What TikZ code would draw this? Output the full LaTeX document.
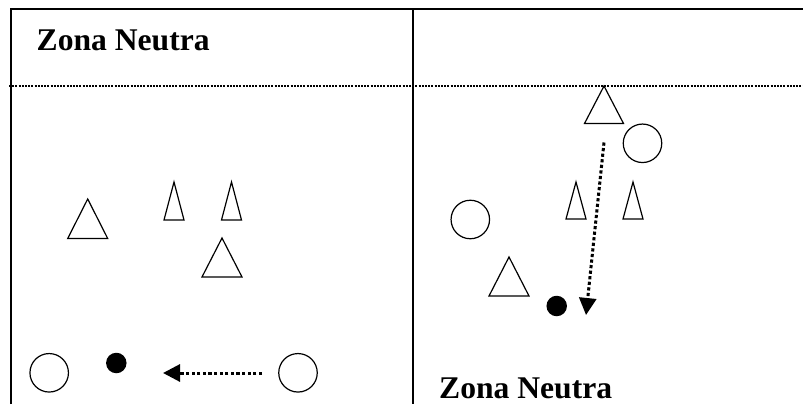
\documentclass[tikz,border=0pt]{standalone}
\usepackage{fontspec}
\setmainfont{Liberation Serif}
\usetikzlibrary{arrows.meta}

\begin{document}
\begin{tikzpicture}[x=1pt,y=-1pt,
    marker/.style={line width=1.2pt},
    player/.style={circle,draw,line width=1.2pt,minimum size=38.5pt,inner sep=0pt},
    ball/.style={circle,fill=black,minimum size=20.5pt,inner sep=0pt},
    pass/.style={line width=3pt,dash pattern=on 3.2pt off 2.4pt,-{Triangle[length=17pt,width=17pt]}},
    zone/.style={font=\bfseries\fontsize{31.6}{36}\selectfont,anchor=base west,inner sep=0pt}]

    \useasboundingbox (0,0) rectangle (803,406);

    % Draw the field lines
    \draw[line width=1.8pt] (11,404) -- (11,9) -- (803,9);
    \draw[line width=1.5pt] (413,9) -- (413,404);
    \draw[line width=2pt,dash pattern=on 2pt off 1.2pt] (9,86) -- (803,86);

    % Label the neutral zones
    \node[zone] (zoneA) at (36.5,50.5) {Zona Neutra};
    \node[zone] (zoneB) at (439,398.3) {Zona Neutra};

    % Define the tips of the triangles and cones
    \coordinate (T1) at (87.7,199);
    \coordinate (T2) at (222,238);
    \coordinate (T3) at (604,86);
    \coordinate (T4) at (509,257);
    \coordinate (C1) at (174,182);
    \coordinate (C2) at (231.5,182);
    \coordinate (C3) at (576,182);
    \coordinate (C4) at (633,182);

    % Draw the triangles
    \draw[marker] (T1) -- ++(-20,39.5) -- ++(40,0) -- cycle;
    \draw[marker] (T2) -- ++(-20,39) -- ++(40,0) -- cycle;
    \draw[marker] (T3) -- ++(-19.5,37.5) -- ++(39,0) -- cycle;
    \draw[marker] (T4) -- ++(-20,39) -- ++(40,0) -- cycle;

    % Draw the cones
    \draw[marker] (C1) -- ++(-10,38) -- ++(20,0) -- cycle;
    \draw[marker] (C2) -- ++(-10,38) -- ++(20,0) -- cycle;
    \draw[marker] (C3) -- ++(-10,37) -- ++(20,0) -- cycle;
    \draw[marker] (C4) -- ++(-10,37) -- ++(20,0) -- cycle;

    % Place the players and the balls
    \node[player] (P1) at (49.2,372.8) {};
    \node[player] (P2) at (298,372.8) {};
    \node[player] (P3) at (642.5,143.3) {};
    \node[player] (P4) at (470.3,219.5) {};
    \node[ball] (B1) at (116.3,363) {};
    \node[ball] (B2) at (556.7,306) {};

    % Draw the passes
    \coordinate (S1) at (262,373);
    \coordinate (E1) at (163,373);
    \coordinate (S2) at (604,142.5);
    \coordinate (E2) at (586,315);
    \draw[pass] (S1) -- (E1);
    \draw[pass] (S2) -- (E2);

\end{tikzpicture}
\end{document}
